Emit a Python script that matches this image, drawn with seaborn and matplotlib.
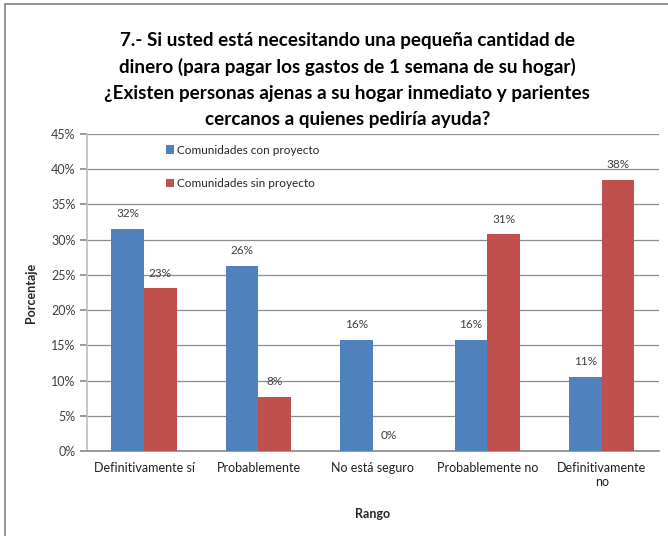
import matplotlib
matplotlib.use("Agg")
import matplotlib.pyplot as plt
import matplotlib.ticker as mticker
from matplotlib.lines import Line2D
import seaborn as sns
import pandas as pd

categorias = ["Definitivamente sí", "Probablemente", "No está seguro",
              "Probablemente no", "Definitivamente\nno"]
con_proyecto = [31.58, 26.32, 15.79, 15.79, 10.53]
sin_proyecto = [23.08, 7.69, 0.0, 30.77, 38.46]
series = ["Comunidades con proyecto", "Comunidades sin proyecto"]
colores = ["#4F81BD", "#C0504D"]

titulo = ("7.- Si usted está necesitando una pequeña cantidad de\n"
          "dinero (para pagar los gastos de 1 semana de su hogar)\n"
          "¿Existen personas ajenas a su hogar inmediato y parientes\n"
          "cercanos a quienes pediría ayuda?")

df = pd.DataFrame({
    "Rango": categorias * 2,
    "Porcentaje": con_proyecto + sin_proyecto,
    "Serie": [series[0]] * len(categorias) + [series[1]] * len(categorias),
})

sns.set_theme(style="white")
plt.rcParams["font.family"] = ["Lato", "DejaVu Sans"]

fig = plt.figure(figsize=(6.68, 5.36), dpi=100)
ax = fig.add_axes([0.130, 0.1586, 0.8565, 0.5914])

sns.barplot(data=df, x="Rango", y="Porcentaje", hue="Serie",
            palette=colores, width=0.57, ax=ax, saturation=1,
            edgecolor="none", zorder=3)

ax.set_ylim(0, 45)
ax.set_xlim(-0.5, len(categorias) - 0.5)
ax.yaxis.set_major_locator(mticker.MultipleLocator(5))
ax.yaxis.set_major_formatter(mticker.FuncFormatter(lambda v, _: f"{v:.0f}%"))
ax.grid(axis="y", color="#8C8C8C", linewidth=0.9, zorder=0)
for side in ["top", "right"]:
    ax.spines[side].set_visible(False)
ax.spines["left"].set_color("#BFBFBF")
ax.spines["bottom"].set_color("#8C8C8C")
ax.tick_params(axis="y", length=5, color="#8C8C8C", labelsize=9,
               labelcolor="#404040", pad=3, left=True)
ax.tick_params(axis="x", length=0, labelsize=9, labelcolor="#202020", pad=8)

for cont in ax.containers:
    ax.bar_label(cont, labels=[f"{round(b.get_height()):.0f}%" for b in cont],
                 padding=7, fontsize=8.5, color="#404040")

ax.set_xlabel("Rango", fontsize=9, fontweight="bold", labelpad=14)
ax.set_ylabel("Porcentaje", fontsize=9, fontweight="bold", labelpad=10)

leg = ax.legend(loc="upper left", bbox_to_anchor=(0.12, 1.0), frameon=False,
                fontsize=8.5, handlelength=0.7, handleheight=0.7,
                handletextpad=0.2, labelspacing=1.9)

fig.text(0.52, 0.851, titulo, ha="center", va="center", fontsize=13.6,
         fontweight="bold", linespacing=1.64, color="#000000")

# chart-area frame (left and top edges)
x0 = 5 / 668
y0 = 1 - 4 / 536
fig.add_artist(Line2D([x0, x0], [0, y0], transform=fig.transFigure,
                      color="#8C8C8C", linewidth=1.3))
fig.add_artist(Line2D([x0, 1], [y0, y0], transform=fig.transFigure,
                      color="#8C8C8C", linewidth=1.3))

fig.savefig("out.png", dpi=100)
